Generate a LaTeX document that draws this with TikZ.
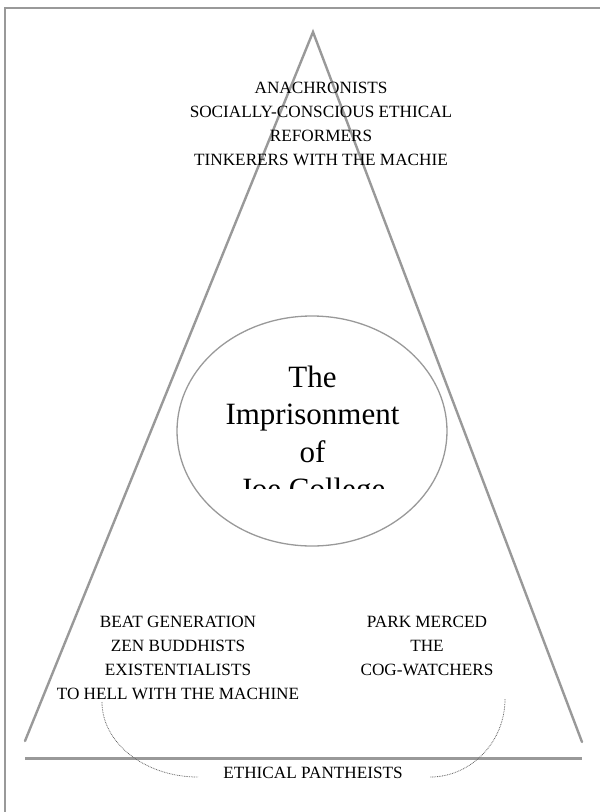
\documentclass[tikz,border=0pt]{standalone}
\usepackage{fontspec}
\setmainfont{Liberation Serif}
\usetikzlibrary{shapes.geometric}
\begin{document}
\begin{tikzpicture}[x=1pt,y=-1pt,
  frameline/.style={draw=black!40, line width=2pt},
  triline/.style={draw=black!40, line width=2.4pt, line cap=round},
  hline/.style={draw=black!40, line width=3pt},
  ovalline/.style={draw=black!40, line width=1.3pt},
  dotline/.style={draw=black!60, line width=0.8pt, dash pattern=on 0.8pt off 0.9pt},
  smalltext/.style={inner sep=0pt, anchor=base, align=center, font=\fontsize{17.2}{24}\selectfont},
  bigtext/.style={inner sep=0pt, anchor=base, align=center, font=\fontsize{31}{37.5}\selectfont}]
\useasboundingbox (0,0) rectangle (600,812);
% frame
\draw[frameline] (4,7.5) -- (600,7.5);
\draw[frameline] (5,7.5) -- (5,812);
% triangle
\coordinate (apex) at (313,32);
\coordinate (bl) at (25,741);
\coordinate (br) at (582,742);
\draw[triline] (bl) -- (apex) -- (br);
% base line
\coordinate (hl) at (25,758);
\coordinate (hr) at (582,758);
\draw[hline] (hl) -- (hr);
% ellipse
\node[ovalline, ellipse, minimum width=270pt, minimum height=230pt, inner sep=0pt] (oval) at (312,431) {};
\begin{scope}
\clip (100,330) rectangle (520,488);
\node[bigtext] (title) at (312.5,499.5) {The\\Imprisonment\\of\\Joe College};
\end{scope}
% texts (base anchor = baseline of last line)
\node[smalltext] (top) at (321,165) {ANACHRONISTS\\SOCIALLY-CONSCIOUS ETHICAL\\REFORMERS\\TINKERERS WITH THE MACHIE};
\node[smalltext] (left) at (178,699) {BEAT GENERATION\\ZEN BUDDHISTS\\EXISTENTIALISTS\\TO HELL WITH THE MACHINE};
\node[smalltext] (right) at (427,675) {PARK MERCED\\THE\\COG-WATCHERS};
\node[smalltext] (eth) at (313,778) {ETHICAL PANTHEISTS};
% dotted arcs
\coordinate (l1) at (102,702);
\coordinate (l2) at (198,777);
\coordinate (r1) at (505,699);
\coordinate (r2) at (430,777);
\draw[dotline] (l1) .. controls (102,743) and (145,777) .. (l2);
\draw[dotline] (r1) .. controls (505,742) and (471,777) .. (r2);
\end{tikzpicture}
\end{document}
